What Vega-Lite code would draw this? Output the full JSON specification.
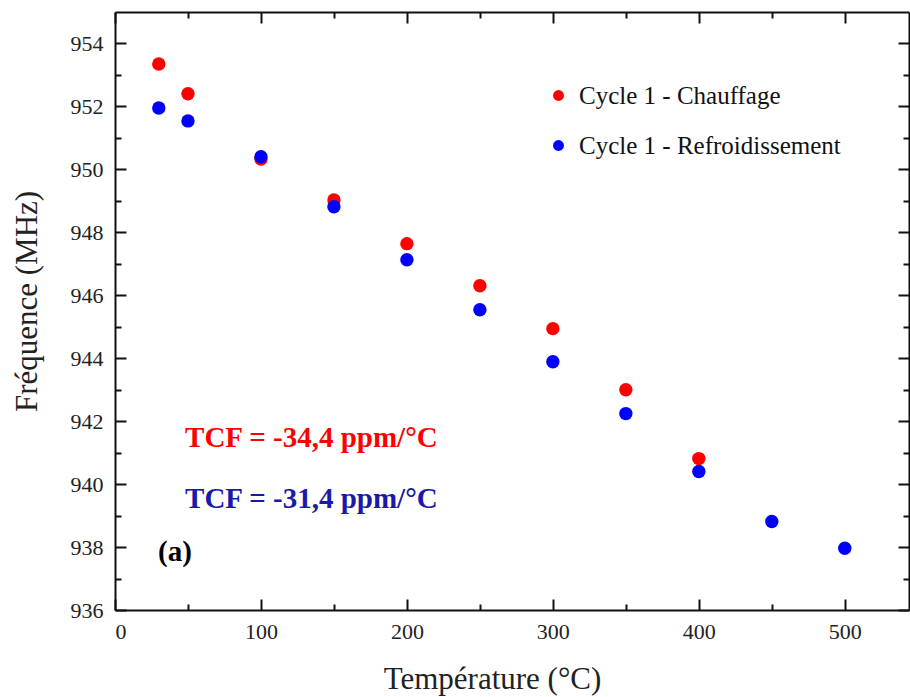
{
  "$schema": "https://vega.github.io/schema/vega-lite/v6.json",
  "autosize": {"type": "none"},
  "padding": {"left": 115, "top": 12, "right": 1, "bottom": 86},
  "width": 794,
  "height": 598,
  "background": "white",
  "config": {
    "view": {"stroke": null},
    "font": "Liberation Serif",
    "axis": {
      "grid": false,
      "domainColor": "#111",
      "domainWidth": 2,
      "tickColor": "#111",
      "tickWidth": 2,
      "labelFont": "Liberation Serif",
      "labelFontSize": 22,
      "labelColor": "#222",
      "titleFont": "Liberation Serif",
      "titleFontSize": 31,
      "titleFontWeight": "normal",
      "titleColor": "#222"
    }
  },
  "datasets": {
    "pts": [
      {"T": 30, "F": 953.35, "s": "Cycle 1 - Chauffage"},
      {"T": 50, "F": 952.4, "s": "Cycle 1 - Chauffage"},
      {"T": 100, "F": 950.33, "s": "Cycle 1 - Chauffage"},
      {"T": 150, "F": 949.03, "s": "Cycle 1 - Chauffage"},
      {"T": 200, "F": 947.64, "s": "Cycle 1 - Chauffage"},
      {"T": 250, "F": 946.3, "s": "Cycle 1 - Chauffage"},
      {"T": 300, "F": 944.94, "s": "Cycle 1 - Chauffage"},
      {"T": 350, "F": 943.0, "s": "Cycle 1 - Chauffage"},
      {"T": 400, "F": 940.81, "s": "Cycle 1 - Chauffage"},
      {"T": 30, "F": 951.95, "s": "Cycle 1 - Refroidissement"},
      {"T": 50, "F": 951.54, "s": "Cycle 1 - Refroidissement"},
      {"T": 100, "F": 950.4, "s": "Cycle 1 - Refroidissement"},
      {"T": 150, "F": 948.81, "s": "Cycle 1 - Refroidissement"},
      {"T": 200, "F": 947.13, "s": "Cycle 1 - Refroidissement"},
      {"T": 250, "F": 945.54, "s": "Cycle 1 - Refroidissement"},
      {"T": 300, "F": 943.89, "s": "Cycle 1 - Refroidissement"},
      {"T": 350, "F": 942.24, "s": "Cycle 1 - Refroidissement"},
      {"T": 400, "F": 940.4, "s": "Cycle 1 - Refroidissement"},
      {"T": 450, "F": 938.81, "s": "Cycle 1 - Refroidissement"},
      {"T": 500, "F": 937.96, "s": "Cycle 1 - Refroidissement"}
    ]
  },
  "data": {"name": "pts"},
  "resolve": {"axis": {"x": "independent", "y": "independent"}},
  "layer": [
    {
      "mark": {"type": "point", "opacity": 0},
      "encoding": {
        "x": {"field": "T", "type": "quantitative", "scale": {"domain": [0, 544], "nice": false, "zero": false},
          "axis": {"orient": "bottom", "values": [0, 100, 200, 300, 400, 500], "tickSize": -11, "labelPadding": 22, "title": "Température (°C)", "titlePadding": 22, "titleX": 377}},
        "y": {"field": "F", "type": "quantitative", "scale": {"domain": [936, 955], "nice": false, "zero": false},
          "axis": {"orient": "left", "values": [936, 938, 940, 942, 944, 946, 948, 950, 952, 954], "tickSize": -11, "labelPadding": 23, "title": "Fréquence (MHz)", "titlePadding": 27, "titleY": 289}}
      }
    },
    {
      "mark": {"type": "point", "opacity": 0},
      "encoding": {
        "x": {"field": "T", "type": "quantitative", "axis": {"orient": "top", "values": [0, 100, 200, 300, 400, 500], "tickSize": -11, "labels": false, "title": null}},
        "y": {"field": "F", "type": "quantitative", "axis": {"orient": "right", "values": [936, 938, 940, 942, 944, 946, 948, 950, 952, 954], "tickSize": -11, "labels": false, "title": null}}
      }
    },
    {
      "mark": {"type": "point", "opacity": 0},
      "encoding": {
        "x": {"field": "T", "type": "quantitative", "axis": {"orient": "bottom", "values": [50, 150, 250, 350, 450], "tickSize": -6, "labels": false, "domain": false, "title": null}},
        "y": {"field": "F", "type": "quantitative", "axis": {"orient": "left", "values": [937, 939, 941, 943, 945, 947, 949, 951, 953], "tickSize": -6, "labels": false, "domain": false, "title": null}}
      }
    },
    {
      "mark": {"type": "point", "opacity": 0},
      "encoding": {
        "x": {"field": "T", "type": "quantitative", "axis": {"orient": "top", "values": [50, 150, 250, 350, 450], "tickSize": -6, "labels": false, "domain": false, "title": null}},
        "y": {"field": "F", "type": "quantitative", "axis": {"orient": "right", "values": [937, 939, 941, 943, 945, 947, 949, 951, 953], "tickSize": -6, "labels": false, "domain": false, "title": null}}
      }
    },
    {
      "mark": {"type": "point", "filled": true, "opacity": 1, "size": 180},
      "encoding": {
        "x": {"field": "T", "type": "quantitative", "axis": null},
        "y": {"field": "F", "type": "quantitative", "axis": null},
        "color": {"field": "s", "type": "nominal",
          "scale": {"domain": ["Cycle 1 - Chauffage", "Cycle 1 - Refroidissement"], "range": ["#ff0000", "#0000ff"]},
          "legend": {"title": null, "orient": "none", "legendX": 431, "legendY": 71, "symbolSize": 120, "symbolType": "circle", "symbolStrokeWidth": 0, "labelFont": "Liberation Serif", "labelFontSize": 25, "labelColor": "#111", "labelOffset": 8, "labelLimit": 0, "rowPadding": 24, "symbolOpacity": 1}}
      }
    },
    {
      "data": {"values": [{"T": 48, "F": 941.48, "label": "TCF = -34,4 ppm/°C"}]},
      "mark": {"type": "text", "align": "left", "baseline": "middle", "font": "Liberation Serif", "fontSize": 29, "fontWeight": "bold", "color": "#ff0000"},
      "encoding": {
        "x": {"field": "T", "type": "quantitative", "axis": null},
        "y": {"field": "F", "type": "quantitative", "axis": null},
        "text": {"field": "label"}
      }
    },
    {
      "data": {"values": [{"T": 48, "F": 939.54, "label": "TCF = -31,4 ppm/°C"}]},
      "mark": {"type": "text", "align": "left", "baseline": "middle", "font": "Liberation Serif", "fontSize": 29, "fontWeight": "bold", "color": "#1a1aaa"},
      "encoding": {
        "x": {"field": "T", "type": "quantitative", "axis": null},
        "y": {"field": "F", "type": "quantitative", "axis": null},
        "text": {"field": "label"}
      }
    },
    {
      "data": {"values": [{"T": 29.5, "F": 937.83, "label": "(a)"}]},
      "mark": {"type": "text", "align": "left", "baseline": "middle", "font": "Liberation Serif", "fontSize": 29, "fontWeight": "bold", "color": "#000000"},
      "encoding": {
        "x": {"field": "T", "type": "quantitative", "axis": null},
        "y": {"field": "F", "type": "quantitative", "axis": null},
        "text": {"field": "label"}
      }
    }
  ]
}
